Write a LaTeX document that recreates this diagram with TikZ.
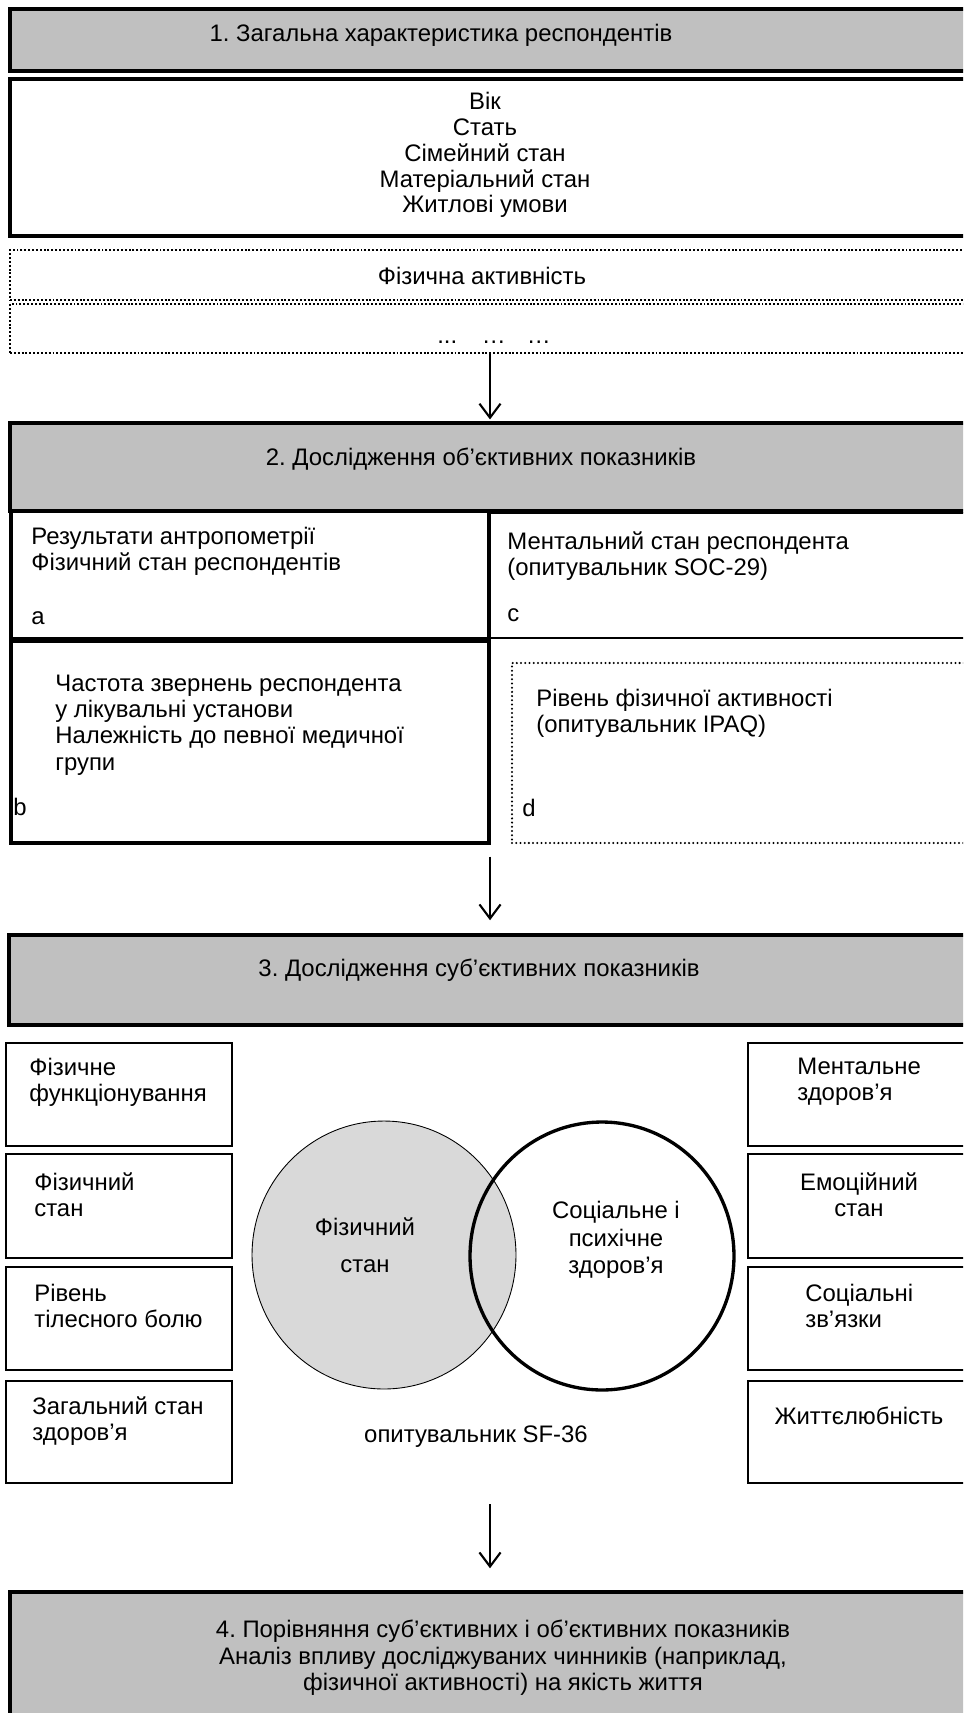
\documentclass[tikz,border=0pt]{standalone}
\usepackage{fontspec}
\setmainfont{Liberation Sans}
\usepackage{xcolor}
\usetikzlibrary{shapes.geometric, arrows.meta, positioning, fit}
\definecolor{hdrgray}{HTML}{C0C0C0}
\definecolor{venngray}{HTML}{D9D9D9}
\frenchspacing

\begin{document}
\begin{tikzpicture}[
    x=0.02cm, y=-0.02cm,
    every node/.style={font=\fontsize{13.6}{15}\selectfont, inner sep=0pt},
    hdr/.style={draw, line width=2pt, fill=hdrgray},
    plainbox/.style={draw, line width=1.8pt},
    thinbox/.style={draw, line width=0.6pt},
    sqdots/.style={draw, line width=1.1pt, dash pattern=on 1.1pt off 1.1pt},
    rounddots/.style={draw, line width=1.3pt, line cap=round,
      dash pattern=on 0pt off 2.4pt},
    side/.style={draw, line width=1.4pt},
    ctext/.style={align=center},
    ltext/.style={align=left, anchor=west},
    arr/.style={-{Straight Barb[length=8pt,width=12pt]}, line width=1.2pt},
]
\useasboundingbox (0,0) rectangle (963,1713);
\clip (0,0) rectangle (963,1713);
\coordinate (axis) at (490,0);

% Block 1
\node[hdr, fit={(10,9) (1000,71)}] (hdr1) {};
\node[ctext] (hdr1txt) at (441,35) {1. Загальна характеристика респондентів};
\node[plainbox, fit={(10,79) (1000,236)}] (general) {};
\node[ctext, font=\fontsize{13.6}{14.7}\selectfont] (generaltxt) at (485,155)
  {Вік\\Стать\\Сімейний стан\\Матеріальний стан\\Житлові умови};
\node[sqdots, fit={(10,250) (1000,300)}] (dotsA) {};
\node (dotsAtxt) at (482,276) {Фізична активність};
\node[sqdots, fit={(10,304) (1000,353)}] (dotsB) {};
\node[anchor=base] (dotsBtxt) at (494,343) {...\hspace{14pt}…\hspace{12pt}…};

% Block 2
\node[hdr, fit={(10,423) (1000,511)}] (hdr2) {};
\node[ctext] (hdr2txt) at (481,459) {2. Дослідження об’єктивних показників};
\node[thinbox, fit={(489,513) (1000,638)}] (cellc) {};
\node[plainbox, fit={(11,511) (489,639)}] (cella) {};
\node[plainbox, fit={(11,641) (489,843)}] (cellb) {};
\node[rounddots, fit={(512,663) (1000,843)}] (celld) {};
\node[ltext] (cellatxt) at (31,551) {Результати антропометрії\\Фізичний стан респондентів};
\node[ltext] (cellctxt) at (507,556) {Ментальний стан респондента\\(опитувальник SOC-29)};
\node[ltext] (cellbtxt) at (55,725)
  {Частота звернень респондента\\у лікувальні установи\\Належність до певної медичної\\групи};
\node[ltext] (celldtxt) at (536,713) {Рівень фізичної активності\\(опитувальник IPAQ)};
\node[anchor=west] (laba) at (31,618) {a};
\node[anchor=west] (labc) at (507,615) {c};
\node[anchor=west] (labb) at (13,807) {b};
\node[anchor=west] (labd) at (522,808) {d};

% Block 3
\node[hdr, fit={(9,935) (1000,1025)}] (hdr3) {};
\node[ctext] (hdr3txt) at (479,970) {3. Дослідження суб’єктивних показників};
\foreach \i/\ya/\yb in {1/1043/1146, 2/1154/1258, 3/1267/1370, 4/1381/1483} {
  \node[side, fit={(6,\ya) (232,\yb)}] (left\i) {};
  \node[side, fit={(748,\ya) (1000,\yb)}] (right\i) {};
}
\foreach \i/\x/\y/\txt in {
  1/29/1082/{Фізичне\\функціонування},
  2/34/1195/{Фізичний\\стан},
  3/34/1306/{Рівень\\тілесного болю},
  4/32/1421/{Загальний стан\\здоров’я}} {
  \node[ltext] (lefttxt\i) at (\x,\y) {\txt};
}
\node[ltext] (righttxt1) at (797,1082) {Ментальне\\здоров’я};
\node[ctext] (righttxt2) at (859,1195) {Емоційний\\стан};
\node[ltext] (righttxt3) at (805,1306) {Соціальні\\зв’язки};
\node[ctext] (righttxt4) at (859,1416) {Життєлюбність};

% Venn
\node[ellipse, draw, line width=0.5pt, fill=venngray,
  minimum width=5.28cm, minimum height=5.36cm] (phys) at (384,1255) {};
\node[ellipse, draw, line width=1.9pt,
  minimum width=5.28cm, minimum height=5.36cm] (soc) at (602,1256) {};
\node[ctext, font=\fontsize{13.6}{21}\selectfont] (physTxt) at (365,1245) {Фізичний\\стан};
\node[ctext, font=\fontsize{13.6}{15.5}\selectfont] (socTxt) at (616,1240)
  {Соціальне і\\психічне\\здоров’я};
\node (sfTxt) at (476,1437) {опитувальник SF-36};

% Block 4
\node[hdr, fit={(10,1592) (1000,1760)}] (hdr4) {};
\node[ctext] (hdr4txt) at (503,1658)
  {4. Порівняння суб’єктивних і об’єктивних показників\\
   Аналіз впливу досліджуваних чинників (наприклад,\\
   фізичної активності) на якість життя};

% Arrows
\draw[arr, shorten >=1pt] (dotsB.south -| axis) -- (hdr2.north -| axis);
\draw[arr, shorten <=0.24cm, shorten >=0.26cm] (cellb.south -| axis) -- (hdr3.north -| axis);
\draw[arr, shorten <=0.4cm, shorten >=0.44cm] (left4.south -| axis) -- (hdr4.north -| axis);

\end{tikzpicture}
\end{document}
